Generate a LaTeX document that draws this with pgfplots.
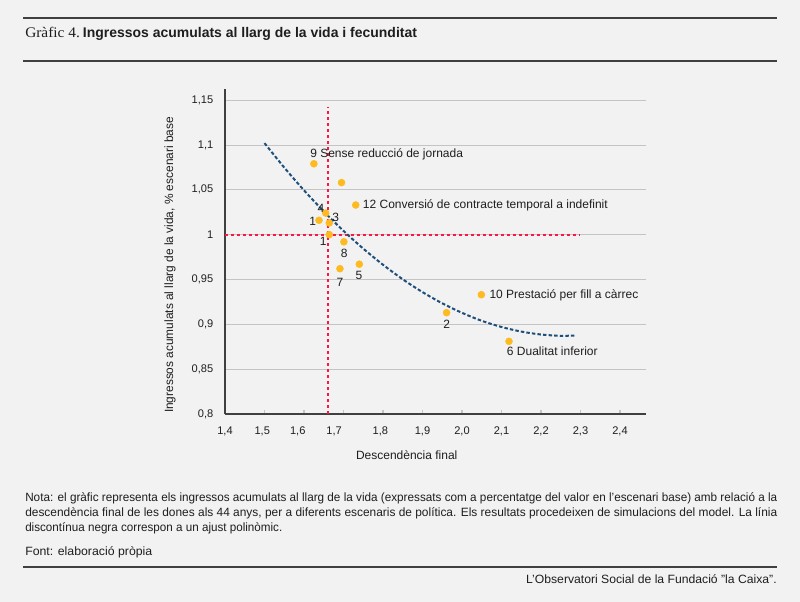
\documentclass[border=0pt]{standalone}
\usepackage{fontspec}
\setmainfont{Liberation Sans}
\newfontfamily\seriffont{Liberation Serif}
\usepackage{graphicx}
\usepackage{pgfplots}
\pgfplotsset{compat=1.18}
\definecolor{bg}{HTML}{F2F2F2}
\definecolor{gold}{HTML}{FDBB21}
\definecolor{crimred}{HTML}{FF1446}
\definecolor{navy}{HTML}{1D4F7A}
\definecolor{gridc}{HTML}{C4C4C4}
\definecolor{axc}{HTML}{404040}
\definecolor{txt}{HTML}{1E1E1E}
\newcommand\fitw[2]{\resizebox{#1}{\height}{#2}}
\newcommand\shl[2]{\makebox[0pt]{\hspace*{#1}#2}}
\begin{document}
\begin{tikzpicture}[x=0.75pt,y=0.75pt]
\fill[bg] (0,0) rectangle (800,602);
\draw[axc, line width=1.5pt] (23,584) -- (777,584);
\draw[axc, line width=1.1pt] (23,541) -- (777,541);
\node[anchor=base west, inner sep=0, text=txt] at (25,564) {\fitw{41pt}{\seriffont\fontsize{11}{13}\selectfont Gràfic 4.}};
\node[anchor=base west, inner sep=0, text=txt] at (82.7,564) {\fitw{250.5pt}{\bfseries\fontsize{10.5}{12}\selectfont Ingressos acumulats al llarg de la vida i fecunditat}};
\begin{axis}[
  at={(168.75pt,141pt)}, anchor=south west,
  scale only axis, width=315.5pt, height=243.5pt,
  xmin=1.4, xmax=2.465, ymin=0.8, ymax=1.162,
  axis x line*=bottom, axis y line*=left,
  axis line style={axc, line width=0.9pt, -},
  xtick={1.4,1.5,1.6,1.7,1.8,1.9,2.0,2.1,2.2,2.3,2.4},
  xticklabels={{1,4},{\shl{-3.4pt}{1,5}},{\shl{-9.4pt}{1,6}},{\shl{-14pt}{1,7}},{\shl{-4pt}{1,8}},{1,9},{2,0},{2,1},{2,2},{2,3},{2,4}},
  ytick={0.8,0.85,0.9,0.95,1,1.05,1.1,1.15},
  yticklabels={{0,8},{0,85},{0,9},{0,95},{1},{1,05},{1,1},{1,15}},
  ymajorgrids, major grid style={gridc, line width=0.6pt},
  tick align=inside, major tick length=3pt,
  x tick style={gridc, line width=0.8pt},
  y tick style={draw=none},
  ticklabel style={font=\fontsize{8.3}{10}\selectfont, text=txt, inner sep=0pt},
  xticklabel style={anchor=center, yshift=-13.3pt},
  yticklabel style={anchor=east, xshift=-8.6pt},
  clip=false,
]
\addplot[draw=crimred, line width=1.5pt, dash pattern=on 2.25pt off 2.25pt] coordinates {(1.66,0.8) (1.66,1.142)};
\addplot[draw=crimred, line width=1.5pt, dash pattern=on 2.25pt off 2.25pt] coordinates {(1.4,1) (2.3,1)};
\addplot[draw=navy, line width=1.5pt, dash pattern=on 2.6pt off 1.6pt, smooth] coordinates {
(1.50,1.1020) (1.55,1.0748) (1.60,1.0494) (1.65,1.0259) (1.70,1.0042) (1.75,0.9844)
(1.80,0.9664) (1.85,0.9502) (1.90,0.9359) (1.95,0.9234) (2.00,0.9128) (2.05,0.9039)
(2.10,0.8970) (2.15,0.8919) (2.20,0.8886) (2.25,0.8872) (2.29,0.8875)};
\addplot[only marks, mark=*, mark size=2.6pt, color=gold] coordinates {
(1.625,1.079) (1.695,1.058) (1.731,1.033) (1.655,1.024) (1.638,1.016) (1.664,1.013)
(1.664,1.000) (1.701,0.992) (1.691,0.962) (1.740,0.967) (2.049,0.933) (1.961,0.913) (2.119,0.881)};
\end{axis}
\begin{scope}[every node/.style={inner sep=0, text=txt, font=\fontsize{9}{11}\selectfont}]
\node[anchor=west] at (310,448) {9 Sense reducció de jornada};
\node[anchor=west] at (362.7,396.3) {12 Conversió de contracte temporal a indefinit};
\node at (321,394) {4};
\node at (312.7,380.3) {1};
\node at (335.7,384.3) {3};
\node at (323.3,360.3) {1};
\node at (344.3,348.7) {8};
\node at (340,319.7) {7};
\node at (359,327) {5};
\node[anchor=west] at (489.3,306.3) {10 Prestació per fill a càrrec};
\node at (446.7,277.7) {2};
\node[anchor=west] at (506.7,251) {6 Dualitat inferior};
\node at (406.7,147) {Descendència final};
\node[rotate=90] at (170,337) {\fitw{222pt}{Ingressos acumulats al llarg de la vida, \% escenari base}};
\node[anchor=base west] at (25,100) {\fitw{564pt}{Nota: el gràfic representa els ingressos acumulats al llarg de la vida (expressats com a percentatge del valor en l’escenari base) amb relació a la}};
\node[anchor=base west] at (25,85) {\fitw{564pt}{descendència final de les dones als 44 anys, per a diferents escenaris de política. Els resultats procedeixen de simulacions del model. La línia}};
\node[anchor=base west] at (25,70) {\fitw{192.8pt}{discontínua negra correspon a un ajust polinòmic.}};
\node[anchor=base west] at (25,46) {\fitw{95.3pt}{Font: elaboració pròpia}};
\node[anchor=base east] at (777,18) {\fitw{188pt}{L’Observatori Social de la Fundació ”la Caixa”.}};
\end{scope}
\draw[axc, line width=1.5pt] (23,35) -- (777,35);
\end{tikzpicture}
\end{document}
